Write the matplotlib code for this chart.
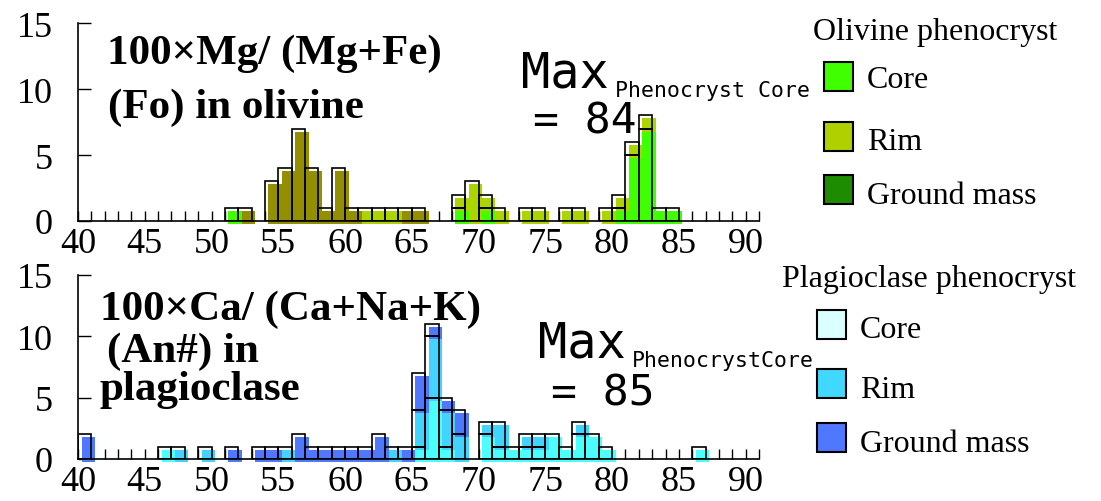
import numpy as np
import matplotlib.pyplot as plt
from matplotlib.patches import Rectangle
from matplotlib.transforms import ScaledTranslation

plt.rcParams['font.family'] = ['Liberation Serif', 'Noto Sans CJK JP', 'DejaVu Sans']

W, H = 1101, 502

# Olivine, 100*Mg/(Mg+Fe): counts per 1-unit bin (left edge of bin)
ol_fo = [51, 52, 54, 55, 56, 57, 58, 59, 60, 61, 62, 63, 64, 65,
         68, 69, 70, 71, 73, 74, 76, 77, 79, 80, 81, 82, 83, 84]
ol_core = [1, 0, 0, 0, 0, 0, 0, 0, 0, 0, 0, 0, 0, 0,
           1, 0, 1, 0, 0, 0, 0, 0, 0, 1, 5, 7, 1, 1]
ol_rim = [0, 0, 0, 0, 0, 0, 0, 0, 0, 1, 1, 1, 0, 0,
          1, 3, 1, 1, 1, 1, 1, 1, 1, 1, 1, 1, 0, 0]
ol_gm = [0, 1, 3, 4, 7, 4, 1, 4, 1, 0, 0, 0, 1, 1,
         0, 0, 0, 0, 0, 0, 0, 0, 0, 0, 0, 0, 0, 0]

# Plagioclase, 100*Ca/(Ca+Na+K)
pl_an = [40, 46, 47, 49, 51, 53, 54, 55, 56, 57, 58, 59, 60, 61, 62, 63,
         64, 65, 66, 67, 68, 70, 71, 72, 73, 74, 75, 76, 77, 78, 79, 86]
pl_core = [0, 1, 0, 0, 0, 0, 0, 0, 0, 0, 0, 0, 0, 0, 0, 0,
           0, 1, 5, 1, 0, 2, 1, 1, 1, 1, 2, 1, 2, 2, 1, 1]
pl_rim = [0, 0, 1, 1, 0, 0, 0, 1, 0, 0, 0, 0, 0, 0, 0, 1,
          0, 3, 5, 3, 2, 1, 2, 0, 1, 1, 0, 0, 1, 0, 0, 0]
pl_gm = [2, 0, 0, 0, 1, 1, 1, 0, 2, 1, 1, 1, 1, 1, 2, 0,
         1, 3, 1, 1, 2, 0, 0, 0, 0, 0, 0, 0, 0, 0, 0, 0]

labels = ['Core', 'Rim', 'Ground mass']
ol_bar_colors = ['#40ff00', '#aed400', '#948f00']
ol_key_colors = ['#40ff00', '#b0d000', '#1e8c00']
pl_bar_colors = ['#4cffff', '#42d4ff', '#5078ff']
pl_key_colors = ['#d9ffff', '#40d8ff', '#5078ff']

fig = plt.figure(figsize=(W / 100, H / 100), dpi=100)


def fx(x):
    return x / W


def fy(y):
    return 1 - y / H


def histo(ax, bins, layers, colors):
    bins = np.asarray(bins)
    # colour fills sit a few pixels right/down of the black outlines
    shift = ax.transData + ScaledTranslation(3.5 / 100, -3 / 100, fig.dpi_scale_trans)
    bottom = np.zeros(len(bins))
    for vals, c in zip(layers, colors):
        vals = np.asarray(vals, float)
        m = vals > 0
        fills = ax.bar(bins[m], vals[m], width=1, bottom=bottom[m], align='edge',
                       color=c, linewidth=0, zorder=1, clip_on=False)
        for p in fills:
            p.set_transform(shift)
        ax.bar(bins[m], vals[m], width=1, bottom=bottom[m], align='edge',
               fill=False, edgecolor='black', linewidth=1.2, zorder=2)
        bottom += vals


def frame(ax):
    ax.set_xlim(40, 91)
    ax.set_ylim(0, 15)
    ax.spines[['top', 'right']].set_visible(False)
    ax.spines[['left', 'bottom']].set_linewidth(1.2)
    ax.set_xticks(range(40, 91, 5))
    ax.set_xticks(range(41, 92), minor=True)
    ax.set_yticks([0, 5, 10, 15])
    ax.tick_params(axis='x', which='both', direction='in', length=7.5, width=1,
                   labelsize=26, pad=4)
    ax.tick_params(axis='y', direction='in', length=9, width=1, labelsize=26, pad=18)
    ax.set_axisbelow(True)
    ax.patch.set_alpha(0)


ax1 = fig.add_axes([fx(78), fy(222), fx(759) - fx(78), 198 / H])
ax2 = fig.add_axes([fx(78), fy(460), fx(759) - fx(78), 184 / H])
frame(ax1)
frame(ax2)
histo(ax1, ol_fo, [ol_core, ol_rim, ol_gm], ol_bar_colors)
histo(ax2, pl_an, [pl_core, pl_rim, pl_gm], pl_bar_colors)

# panel titles
bold = dict(fontsize=31, fontweight='bold', va='baseline')
fig.text(fx(107), fy(64), '100×Mg/ (Mg+Fe)', **bold)
fig.text(fx(108), fy(118), '(Fo) in olivine', **bold)
fig.text(fx(100), fy(320), '100×Ca/ (Ca+Na+K)', **bold)
fig.text(fx(107), fy(362), '(An#) in', **bold)
fig.text(fx(100), fy(400), 'plagioclase', **bold)

mono = dict(family='DejaVu Sans Mono', va='baseline')
fig.text(fx(521), fy(88), 'Max', fontsize=35, **mono)
fig.text(fx(615), fy(97), 'Phenocryst Core', fontsize=15.5, **mono)
fig.text(fx(533), fy(134), '= 84', fontsize=31, **mono)
fig.text(fx(538), fy(358), 'Max', fontsize=35, **mono)
fig.text(fx(632), fy(367), 'PhenocrystCore', fontsize=15.5, **mono)
fig.text(fx(551), fy(406), '= 85', fontsize=31, **mono)


def key(title, tx, ty, bx, by, lx, lys, colors):
    fig.text(fx(tx), fy(ty), title, fontsize=23, va='baseline')
    for (b, ly), c, lab in zip(zip(by, lys), colors, labels):
        fig.patches.append(Rectangle((fx(bx), fy(b)), 29 / W, 29 / H, facecolor=c,
                                     edgecolor='black', linewidth=1.5,
                                     transform=fig.transFigure))
        fig.text(fx(lx), fy(ly), lab, fontsize=23, va='baseline')


key('Olivine phenocryst', 813, 40, 824, [92, 152, 205], 867, [88, 150, 204],
    ol_key_colors)
key('Plagioclase phenocryst', 782, 287, 817, [340, 399, 453], 860, [338, 398, 452],
    pl_key_colors)

fig.savefig('out.png', dpi=100)
